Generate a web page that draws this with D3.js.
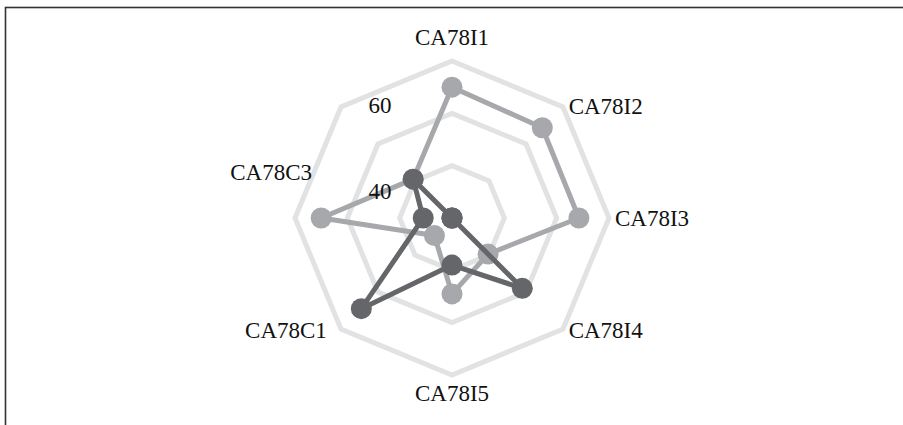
<!DOCTYPE html>
<html>
<head>
<meta charset="utf-8">
<script src="https://cdn.jsdelivr.net/npm/d3@7"></script>
<style>
  body { margin: 0; background: #fff; }
  text { font-family: "Liberation Serif", "Times New Roman", serif; fill: #111; }
</style>
</head>
<body>
<div class="radar_chart"></div>
<script>
// axes, clockwise from the top
const categories = ['CA78I1', 'CA78I2', 'CA78I3', 'CA78I4', 'CA78I5', 'CA78C1', 'CA78C2', 'CA78C3']
const shownLabels = ['CA78I1', 'CA78I2', 'CA78I3', 'CA78I4', 'CA78I5', 'CA78C1', '', 'CA78C3']
const seriesLight = [50, 48.8, 48.5, 19.5, 29, 9.5, 50, 21]
const seriesDark = [0, 0, 0, 38, 18, 49, 11, 21]
const ringValues = [20, 40, 60]
const tickLabels = [40, 60]

const width = 903
const height = 425
const cx = 452
const cy = 218
const radius = 157

const svg = d3.select('.radar_chart').append('svg')
  .attr('width', width)
  .attr('height', height)

// frame (only top and left edges fall inside the picture)
svg.append('rect')
  .attr('x', 5.5).attr('y', 7.5)
  .attr('width', 1000).attr('height', 1000)
  .attr('fill', 'none')
  .attr('stroke', '#333')
  .attr('stroke-width', 1.6)

const g = svg.append('g').attr('transform', 'translate(' + cx + ',' + cy + ')')

const r = d3.scaleLinear().domain([0, 60]).range([0, radius])
const angle = d3.scalePoint().domain(categories).range([0, 2 * Math.PI * 7 / 8])

const radial = d3.lineRadial()
  .angle((d, i) => angle(categories[i]))
  .radius(d => r(d))
  .curve(d3.curveLinearClosed)

// grid rings
g.selectAll('.ring')
  .data(ringValues)
  .enter().append('path')
  .attr('d', v => radial(categories.map(() => v)))
  .attr('fill', 'none')
  .attr('stroke', '#e1e2e4')
  .attr('stroke-width', 5)
  .attr('stroke-linejoin', 'miter')

function drawSeries (values, color) {
  g.append('path')
    .attr('d', radial(values))
    .attr('fill', 'none')
    .attr('stroke', color)
    .attr('stroke-width', 5)
    .attr('stroke-linejoin', 'round')
  g.selectAll(null)
    .data(values)
    .enter().append('circle')
    .attr('cx', (d, i) => r(d) * Math.sin(angle(categories[i])))
    .attr('cy', (d, i) => -r(d) * Math.cos(angle(categories[i])))
    .attr('r', 10.5)
    .attr('fill', color)
}
drawSeries(seriesLight, '#a7a8ab')
drawSeries(seriesDark, '#65666a')

// axis labels
g.selectAll('.axis-label')
  .data(categories)
  .enter().append('text')
  .attr('font-size', '23px')
  .attr('dy', '0.35em')
  .attr('text-anchor', (c) => {
    const s = Math.sin(angle(c))
    return Math.abs(s) < 0.01 ? 'middle' : (s > 0 ? 'start' : 'end')
  })
  .attr('x', (c) => {
    const a = angle(c)
    if (c === 'CA78C3') return -radius + 17
    const s = Math.sin(a)
    if (Math.abs(s) < 0.01) return 0
    if (Math.abs(s) > 0.99) return s * (radius + 6)
    return s > 0 ? s * (radius + 8) : s * (radius + 20)
  })
  .attr('y', (c) => {
    const a = angle(c)
    if (c === 'CA78C3') return -46
    const cosA = Math.cos(a)
    if (cosA > 0.99) return -(radius + 24)
    if (cosA < -0.99) return radius + 18
    return -(radius + 2) * cosA * 1.0
  })
  .text((c, i) => shownLabels[i])

// value tick labels
const tickY = d3.scaleLinear().domain([40, 60]).range([-27, -113])
g.selectAll('.tick-label')
  .data(tickLabels)
  .enter().append('text')
  .attr('font-size', '23px')
  .attr('text-anchor', 'middle')
  .attr('dy', '0.35em')
  .attr('x', -72)
  .attr('y', v => tickY(v))
  .text(d => d)
</script>
</body>
</html>
